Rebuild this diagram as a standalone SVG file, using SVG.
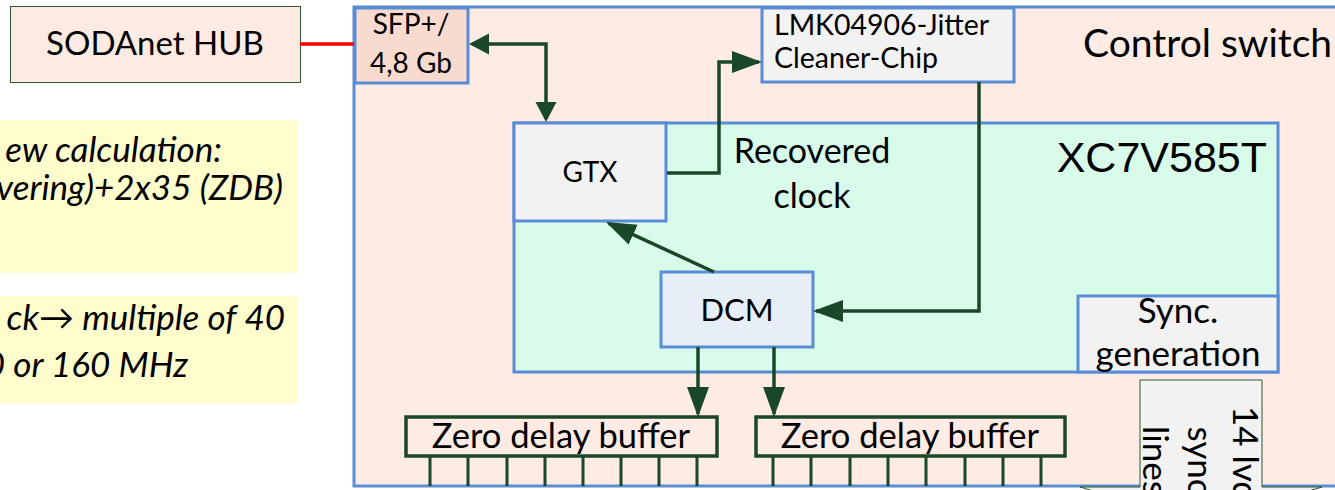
<svg xmlns="http://www.w3.org/2000/svg" width="1335" height="490" viewBox="0 0 1335 490">
<style>
.t{font-family:Lato,"Liberation Sans",sans-serif;fill:#000}
.it{font-family:Lato,"Liberation Sans",sans-serif;font-style:italic;fill:#000;font-size:35px}
.blue{stroke:#5A8DD6;stroke-width:3}
.con{fill:none;stroke:#1A472A;stroke-width:3.5}
.out{stroke:#1A472A;stroke-width:3}
</style>
<defs>
<marker id="ah" markerUnits="userSpaceOnUse" markerWidth="32" markerHeight="24" refX="27" refY="11" orient="auto"><path d="M0,0 L30,11 L0,22 z" fill="#1A472A"/></marker>
<marker id="ahs" markerUnits="userSpaceOnUse" markerWidth="22" markerHeight="24" refX="17" refY="10.5" orient="auto-start-reverse"><path d="M0,0 L20,10.5 L0,21 z" fill="#1A472A"/></marker>
</defs>
<rect width="1335" height="490" fill="#fff"/>

<g id="note1">
<rect x="-10" y="120" width="307" height="153" fill="#FEFDCB"/>
<text class="it" x="222" y="162" text-anchor="end">ew calculation:</text>
<text class="it" x="283" y="200" text-anchor="end">vering)+2x35 (ZDB)</text>
</g>
<g id="note2">
<rect x="-10" y="296" width="307" height="107" fill="#FEFDCB"/>
<text class="it" x="285" y="330" text-anchor="end">ck→ multiple of 40</text>
<text class="it" x="188" y="377" text-anchor="end">0 or 160 MHz</text>
</g>

<g id="sodanet-hub">
<rect x="10.5" y="6.5" width="290" height="76" fill="#FDEAE3" stroke="#2E5530" stroke-width="1"/>
<text class="t" x="155" y="55" font-size="33" text-anchor="middle">SODAnet HUB</text>
</g>

<g id="control-switch">
<rect x="354" y="7" width="1100" height="479" fill="#FDEBE4" class="blue"/>
<text class="t" x="1083" y="57" font-size="39">Control switch</text>
</g>

<g id="xc7v585t">
<rect x="514" y="123" width="764" height="249" fill="#D9FCEA" class="blue"/>
<text x="1267" y="172" font-size="43" text-anchor="end" font-family="'Liberation Sans',Arial,sans-serif">XC7V585T</text>
<text class="t" x="812" y="163" font-size="34" text-anchor="middle">Recovered</text>
<text class="t" x="812" y="208" font-size="34" text-anchor="middle">clock</text>
</g>

<g id="sfp">
<rect x="355" y="8" width="113" height="75" fill="#F9DACE" class="blue"/>
<text class="t" x="411" y="34" font-size="28" text-anchor="middle">SFP+/</text>
<text class="t" x="411" y="73" font-size="28" text-anchor="middle">4,8 Gb</text>
</g>

<g id="lmk">
<rect x="762" y="8" width="252" height="74" fill="#F2F2F2" class="blue"/>
<text class="t" x="774" y="35" font-size="28.5">LMK04906-Jitter</text>
<text class="t" x="774" y="68" font-size="28.5">Cleaner-Chip</text>
</g>

<g id="gtx">
<rect x="514" y="123" width="152" height="98" fill="#F2F2F2" class="blue"/>
<text class="t" x="590" y="182" font-size="28" text-anchor="middle">GTX</text>
</g>

<g id="dcm">
<rect x="661" y="272" width="152" height="75" fill="#E8EEF7" class="blue"/>
<text class="t" x="737" y="321" font-size="31" text-anchor="middle">DCM</text>
</g>

<g id="sync-generation">
<rect x="1078" y="296" width="200" height="76" fill="#F2F2F2" class="blue"/>
<text class="t" x="1178" y="323" font-size="35" text-anchor="middle">Sync.</text>
<text class="t" x="1178" y="366" font-size="35" text-anchor="middle">generation</text>
</g>

<g id="zdb-left">
<rect x="406" y="417" width="311" height="39" fill="#FDEBE4" stroke="#1A472A" stroke-width="3.5"/>
<text class="t" x="561" y="448" font-size="34.5" text-anchor="middle">Zero delay buffer</text>
</g>
<g id="zdb-right">
<rect x="756" y="417" width="309" height="39" fill="#FDEBE4" stroke="#1A472A" stroke-width="3.5"/>
<text class="t" x="910" y="448" font-size="34.5" text-anchor="middle">Zero delay buffer</text>
</g>

<g id="connectors">
<path d="M300,44 H354" fill="none" stroke="#FF0000" stroke-width="3.5"/>
<path class="con" d="M472,44 H546 V119" marker-start="url(#ahs)" marker-end="url(#ahs)"/>
<path class="con" d="M667,173 H719 V62 H759" marker-end="url(#ah)"/>
<path class="con" d="M979,82 V311 H816" marker-end="url(#ah)"/>
<path class="con" d="M714,272 L608.7,223.3" marker-end="url(#ah)"/>
<path class="con" d="M698,347 V414" marker-end="url(#ah)"/>
<path class="con" d="M774,347 V414" marker-end="url(#ah)"/>
<g class="out">
<path d="M430,456V486 M468,456V486 M507,456V486 M545,456V486 M583,456V486 M621,456V486 M659,456V486 M697,456V486"/>
<path d="M773,456V486 M811,456V486 M850,456V486 M888,456V486 M926,456V486 M965,456V486 M1003,456V486 M1041,456V486"/>
</g>
</g>

<g id="sync-lines-arrow">
<polygon points="1140,380 1262,380 1262,487 1322,487 1201,523 1080,487 1140,487" fill="#F2F2F2" stroke="#2E5530" stroke-width="1"/>
<text class="t" transform="translate(1233,461) rotate(90)" font-size="35" text-anchor="middle">14 lvds</text>
<text class="t" transform="translate(1188,461) rotate(90)" font-size="35" text-anchor="middle">sync</text>
<text class="t" transform="translate(1143,461) rotate(90)" font-size="35" text-anchor="middle">lines</text>
</g>
</svg>
